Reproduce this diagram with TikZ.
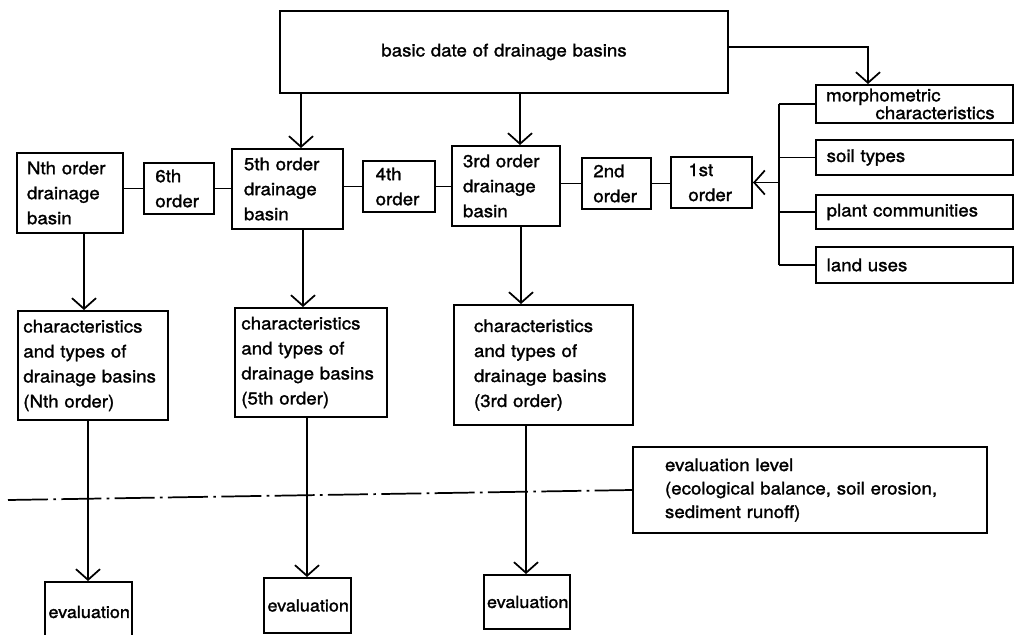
\documentclass[tikz,border=0pt]{standalone}
\usepackage{fontspec}
\setmainfont{TeX Gyre Heros}[FakeStretch=1.08, FakeBold=1.5]
\usetikzlibrary{arrows.meta}

\tikzset{
  blk/.style={draw, line width=1.5pt, align=left, inner ysep=0pt,
    font=\fontsize{13}{18.75}\selectfont},
  side/.style={blk, inner xsep=8pt, text width=131.75pt},
  evalbox/.style={blk, inner xsep=2.5pt, text width=60pt,
    font=\fontsize{12.5}{16}\selectfont},
  arr/.style={line width=1.3pt, -{Straight Barb[length=8pt,width=18pt]}},
  link/.style={line width=1.3pt},
  dashdot/.style={line width=1.3pt, dash pattern=on 30pt off 4pt on 2pt off 4pt}
}

\begin{document}
\begin{tikzpicture}[x=0.75pt,y=0.75pt,yscale=-1,xscale=1]
\useasboundingbox (0,0) rectangle (1028,635);

%Shape: Rectangle [basic data]
\node [blk, align=center, text width=330pt, minimum height=61.5pt] (top) at (504,52) {basic date of drainage basins};

%Shape: Rectangle [order boxes]
\node [blk, inner xsep=7.5pt, text width=64.5pt, minimum height=60pt] (nN) at (70,193) {Nth order\\drainage\\basin};
\node [blk, inner xsep=8.5pt, text width=35.5pt, minimum height=38.25pt] (n6) at (179,188.5) {6th\\order};
\node [blk, inner xsep=9pt, text width=65.25pt, minimum height=60pt] (n5) at (287.5,189) {5th order\\drainage\\basin};
\node [blk, inner xsep=9.5pt, text width=35pt, minimum height=38.25pt] (n4) at (399,186.5) {4th\\order};
\node [blk, inner xsep=8.25pt, text width=64.5pt, minimum height=60pt] (n3) at (506,186) {3rd order\\drainage\\basin};
\node [blk, inner xsep=8.5pt, text width=34.75pt, minimum height=38.25pt] (n2) at (616.5,183.5) {2nd\\order};
\node [blk, inner xsep=13pt, text width=34.75pt, minimum height=38.25pt] (n1) at (711.5,182.5) {1st\\order};

%Shape: Rectangle [basin attributes]
\node [side, minimum height=28.5pt, font=\fontsize{13}{11.5}\selectfont] (morph) at (914,104) {morphometric\\\hspace*{37pt}characteristics};
\node [side, minimum height=26.25pt] (soil) at (914.5,157.5) {soil types};
\node [side, minimum height=25.5pt] (plant) at (914.5,212) {plant communities};
\node [side, minimum height=27pt] (land) at (914.5,265) {land uses};

%Shape: Rectangle [characteristics]
\node [blk, inner xsep=4pt, text width=104.5pt, minimum height=81.75pt] (charN) at (93,365.5) {characteristics\\and types of\\drainage basins\\(Nth order)};
\node [blk, inner xsep=4.75pt, text width=104.5pt, minimum height=81.75pt] (char5) at (311,362.5) {characteristics\\and types of\\drainage basins\\(5th order)};
\node [blk, inner xsep=15pt, text width=104.25pt, minimum height=90pt] (char3) at (543.5,365) {characteristics\\and types of\\drainage basins\\(3rd order)};

%Shape: Rectangle [evaluation level]
\node [blk, inner xsep=24pt, text width=217.5pt, minimum height=64.5pt, font=\fontsize{13}{17.6}\selectfont] (lev) at (810,490) {evaluation level\\(ecological balance, soil erosion,\\sediment runoff)};

%Shape: Rectangle [evaluation]
\node [evalbox, minimum height=45pt] (evN) at (88.5,612) {evaluation};
\node [evalbox, minimum height=41.25pt] (ev5) at (307.5,605.5) {evaluation};
\node [evalbox, minimum height=40.5pt] (ev3) at (527,602) {evaluation};

% arrow columns
\coordinate (kR) at (868,47);
\coordinate (c5) at (301,0);
\coordinate (c3) at (520,0);
\coordinate (bx) at (779,0);
\coordinate (dN) at (84,0);
\coordinate (d5) at (303,0);
\coordinate (d3) at (521,0);
\coordinate (eN) at (88,0);
\coordinate (e5) at (307,0);
\coordinate (e3) at (526,0);

%Straight Lines [from basic data]
\draw [arr] (top.south -| c5) -- (n5.north -| c5);
\draw [arr] (top.south -| c3) -- (n3.north -| c3);
\draw [arr] (top.east |- kR) -| (morph.north -| kR);

%Straight Lines [chain of orders]
\draw [link] (nN.east |- n6.west) -- (n6.west);
\draw [link] (n6.east) -- (n6.east -| n5.west);
\draw [link] (n5.east |- n4.west) -- (n4.west);
\draw [link] (n4.east) -- (n4.east -| n3.west);
\draw [link] (n3.east |- n2.west) -- (n2.west);
\draw [link] (n2.east) -- (n2.east -| n1.west);

%Straight Lines [bracket]
\draw [link] (morph.west -| bx) -- (land.west -| bx);
\foreach \a in {morph,soil,plant,land}
  \draw [link] (\a.west -| bx) -- (\a.west);
\draw [arr] (n1.east -| bx) -- (n1.east);

%Straight Lines [down]
\draw [arr] (nN.south -| dN) -- (charN.north -| dN);
\draw [arr] (n5.south -| d5) -- (char5.north -| d5);
\draw [arr] (n3.south -| d3) -- (char3.north -| d3);
\draw [arr] (charN.south -| eN) -- (evN.north -| eN);
\draw [arr] (char5.south -| e5) -- (ev5.north -| e5);
\draw [arr] (char3.south -| e3) -- (ev3.north -| e3);

%Straight Lines [level]
\draw [dashdot] (8,500) -- (lev.west);

\end{tikzpicture}
\end{document}
